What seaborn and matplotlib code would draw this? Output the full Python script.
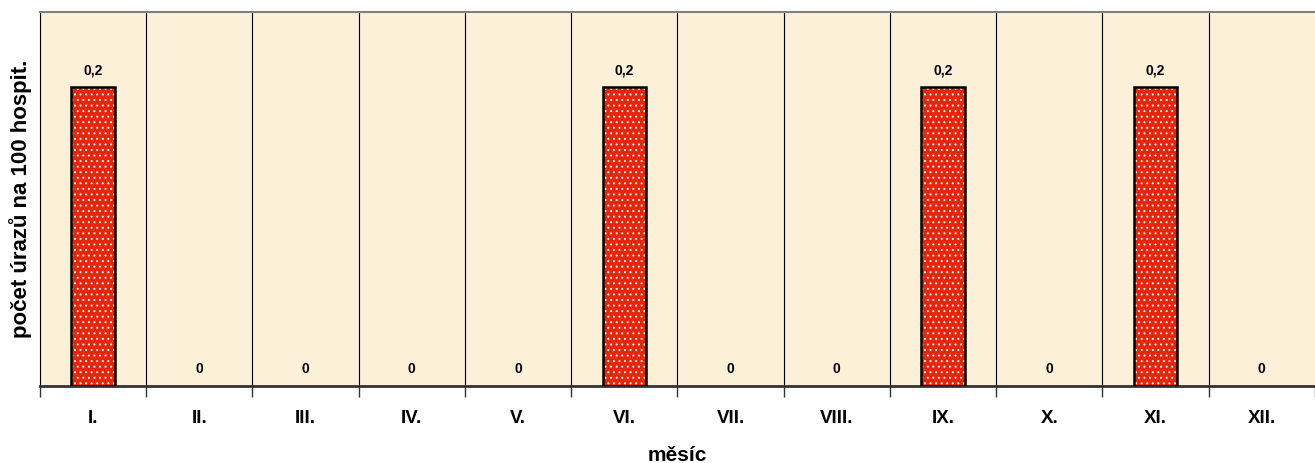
import numpy as np
import pandas as pd
import matplotlib.pyplot as plt
import seaborn as sns
from matplotlib.patches import Rectangle

# --- Data ---
months = ['I.', 'II.', 'III.', 'IV.', 'V.', 'VI.', 'VII.', 'VIII.', 'IX.', 'X.', 'XI.', 'XII.']
values = [0.2, 0, 0, 0, 0, 0.2, 0, 0, 0.2, 0, 0.2, 0]
value_labels = ['0,2', '0', '0', '0', '0', '0,2', '0', '0', '0,2', '0', '0,2', '0']

df = pd.DataFrame({'měsíc': months, 'hodnota': values})

sns.set_style('white')
plt.rcParams['font.family'] = ['Liberation Sans', 'DejaVu Sans']
plt.rcParams['text.color'] = 'black'
plt.rcParams['axes.labelcolor'] = 'black'
plt.rcParams['xtick.color'] = 'black'
plt.rcParams['hatch.linewidth'] = 0.7

fig = plt.figure(figsize=(13.15, 4.63), dpi=100)
ax = fig.add_axes([0.0304, 0.1663, 0.9696, 0.9741 - 0.1663])
ax.set_facecolor('#fcf0d8')

sns.barplot(data=df, x='měsíc', y='hodnota', color='#e5260c', width=0.41,
            saturation=1, ax=ax, zorder=3)

# white dotted fill + black outline
for p in ax.patches:
    p.set_hatch('...')
    p.set_edgecolor('#fff4f0')
    p.set_linewidth(0)
    if p.get_height() > 0:
        ax.add_patch(Rectangle((p.get_x(), p.get_y()), p.get_width(), p.get_height(),
                               fill=False, edgecolor='black', linewidth=1.8, zorder=4))

ax.set_ylim(0, 0.25)
ax.set_xlim(-0.5, len(months) - 0.5)

# category separators
for b in np.arange(0.5, len(months) - 0.5, 1):
    ax.axvline(b, color='black', linewidth=0.8, zorder=2)

# value labels
for i, (v, lab) in enumerate(zip(values, value_labels)):
    ax.annotate(lab, (i, v), xytext=(0, 7), textcoords='offset points',
                ha='center', va='bottom', fontsize=10, fontweight='bold')

ax.set_yticks([])
ax.set_xticks(range(len(months)))
ax.set_xticklabels(months, fontsize=13.5, fontweight='bold')
ax.tick_params(axis='x', which='major', length=0, pad=17)
ax.set_xticks(np.arange(-0.5, len(months) - 0.4, 1), minor=True)
ax.tick_params(axis='x', which='minor', bottom=True, length=8, width=1,
               color='#333333', direction='out')

ax.set_xlabel('měsíc', fontsize=15, fontweight='bold', labelpad=14)
ax.set_ylabel('počet úrazů na 100 hospit.', fontsize=16, fontweight='bold', labelpad=6)

ax.spines['bottom'].set_color('#333333')
ax.spines['bottom'].set_linewidth(2)
ax.spines['left'].set_color('black')
ax.spines['left'].set_linewidth(0.8)
ax.spines['top'].set_color('#808080')
ax.spines['top'].set_linewidth(1.5)
ax.spines['right'].set_visible(False)

fig.savefig('out.png', dpi=100)
